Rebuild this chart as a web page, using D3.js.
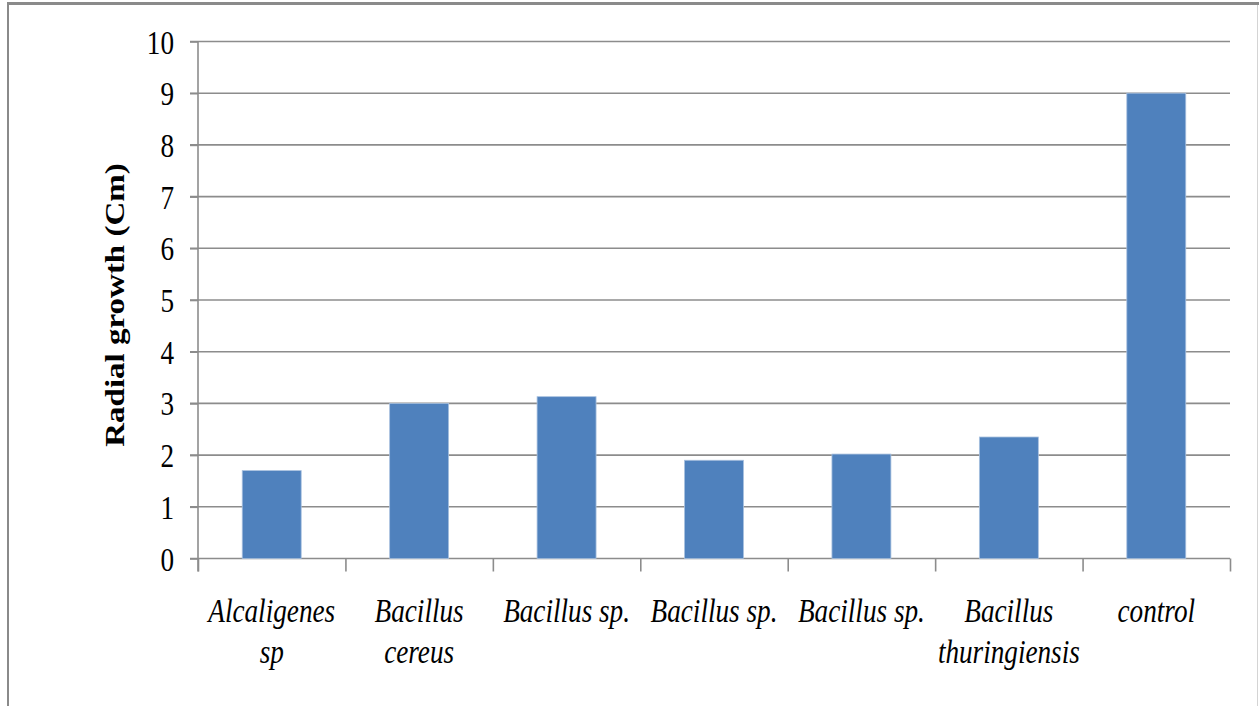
<html>
<head>
<meta charset="utf-8">
<script src="https://d3js.org/d3.v7.min.js"></script>
<style>
  body { margin: 0; background: #fff; }
  text { font-family: "Liberation Serif", "Times New Roman", serif; fill: #000; }
</style>
</head>
<body>
<div id="chart_area"></div>
<script>
// data
let categories = ["Alcaligenes\nsp", "Bacillus\ncereus", "Bacillus sp.", "Bacillus sp.", "Bacillus sp.", "Bacillus\nthuringiensis", "control"];
let values = [1.7, 3.0, 3.13, 1.9, 2.02, 2.35, 9.0];
let yTicks = [0, 1, 2, 3, 4, 5, 6, 7, 8, 9, 10];
let yTitle = "Radial growth (Cm)";

let width = 1259;
let height = 706;
let plotLeft = 198, plotRight = 1230, plotTop = 41.5, plotBottom = 558.5;
let squeeze = 0.8; // the picture text is narrow

let svg = d3.select("#chart_area").append("svg")
    .attr("width", width)
    .attr("height", height);

// outer frame
svg.append("line").attr("x1", 7).attr("x2", width).attr("y1", 3.5).attr("y2", 3.5)
    .attr("stroke", "#8a8a8a").attr("stroke-width", 3);
svg.append("line").attr("x1", 8).attr("x2", 8).attr("y1", 2).attr("y2", height)
    .attr("stroke", "#8a8a8a").attr("stroke-width", 2);
svg.append("line").attr("x1", 1257.5).attr("x2", 1257.5).attr("y1", 5).attr("y2", height)
    .attr("stroke", "#d4d4d4").attr("stroke-width", 1);

let idx = d3.range(categories.length);

let x = d3.scaleBand()
    .domain(idx)
    .range([plotLeft, plotRight])
    .paddingInner(0.6)
    .paddingOuter(0.3);

let xEdge = d3.scaleLinear()
    .domain([0, categories.length])
    .range([plotLeft, plotRight]);

let y = d3.scaleLinear()
    .domain([0, 10])
    .range([plotBottom, plotTop]);

// gridlines
svg.append("g")
    .selectAll("line")
    .data(yTicks)
    .join("line")
        .attr("x1", plotLeft - 8)
        .attr("x2", plotRight)
        .attr("y1", d => y(d))
        .attr("y2", d => y(d))
        .attr("stroke", "#8c8c8c")
        .attr("stroke-width", 1.6);

// bars
svg.append("g")
    .selectAll("rect")
    .data(values)
    .join("rect")
        .attr("x", (d, i) => x(i))
        .attr("width", x.bandwidth())
        .attr("y", d => y(d))
        .attr("height", d => y(0) - y(d))
        .attr("fill", "#4f81bd")
        .attr("stroke", "#a9c1df")
        .attr("stroke-width", 0.8);

// y axis
let yAxis = svg.append("g")
    .attr("transform", `translate(${plotLeft},0)`)
    .call(d3.axisLeft(y).tickValues(yTicks).tickSize(8).tickSizeOuter(0));
yAxis.select(".domain").remove();
yAxis.selectAll(".tick line").attr("stroke", "#8c8c8c").attr("stroke-width", 1.6);
yAxis.selectAll(".tick text")
    .attr("x", -24 / squeeze)
    .attr("dy", "0.34em")
    .attr("transform", `scale(${squeeze},1)`)
    .style("font-size", "34px");
svg.append("line")
    .attr("x1", plotLeft).attr("x2", plotLeft)
    .attr("y1", plotTop).attr("y2", plotBottom + 13)
    .attr("stroke", "#8c8c8c").attr("stroke-width", 1.6);

// x axis ticks at category edges
let xAxis = svg.append("g")
    .attr("transform", `translate(0,${plotBottom})`)
    .call(d3.axisBottom(xEdge).tickValues(d3.range(categories.length + 1)).tickSize(13).tickFormat(""));
xAxis.select(".domain").remove();
xAxis.selectAll(".tick line").attr("stroke", "#8c8c8c").attr("stroke-width", 1.6);

// category labels
let labels = svg.append("g")
    .selectAll("text")
    .data(categories)
    .join("text")
        .attr("text-anchor", "middle")
        .attr("transform", (d, i) => `translate(${x(i) + x.bandwidth() / 2},622) scale(${squeeze},1)`)
        .style("font-size", "34px")
        .style("font-style", "italic");
labels.selectAll("tspan")
    .data(d => d.split("\n"))
    .join("tspan")
        .attr("x", 0)
        .attr("y", (d, i) => i * 41)
        .text(d => d);

// y title
svg.append("text")
    .attr("text-anchor", "middle")
    .attr("transform", `translate(124,305) rotate(-90) scale(1,${squeeze})`)
    .style("font-size", "33px")
    .style("font-weight", "bold")
    .text(yTitle);
</script>
</body>
</html>
